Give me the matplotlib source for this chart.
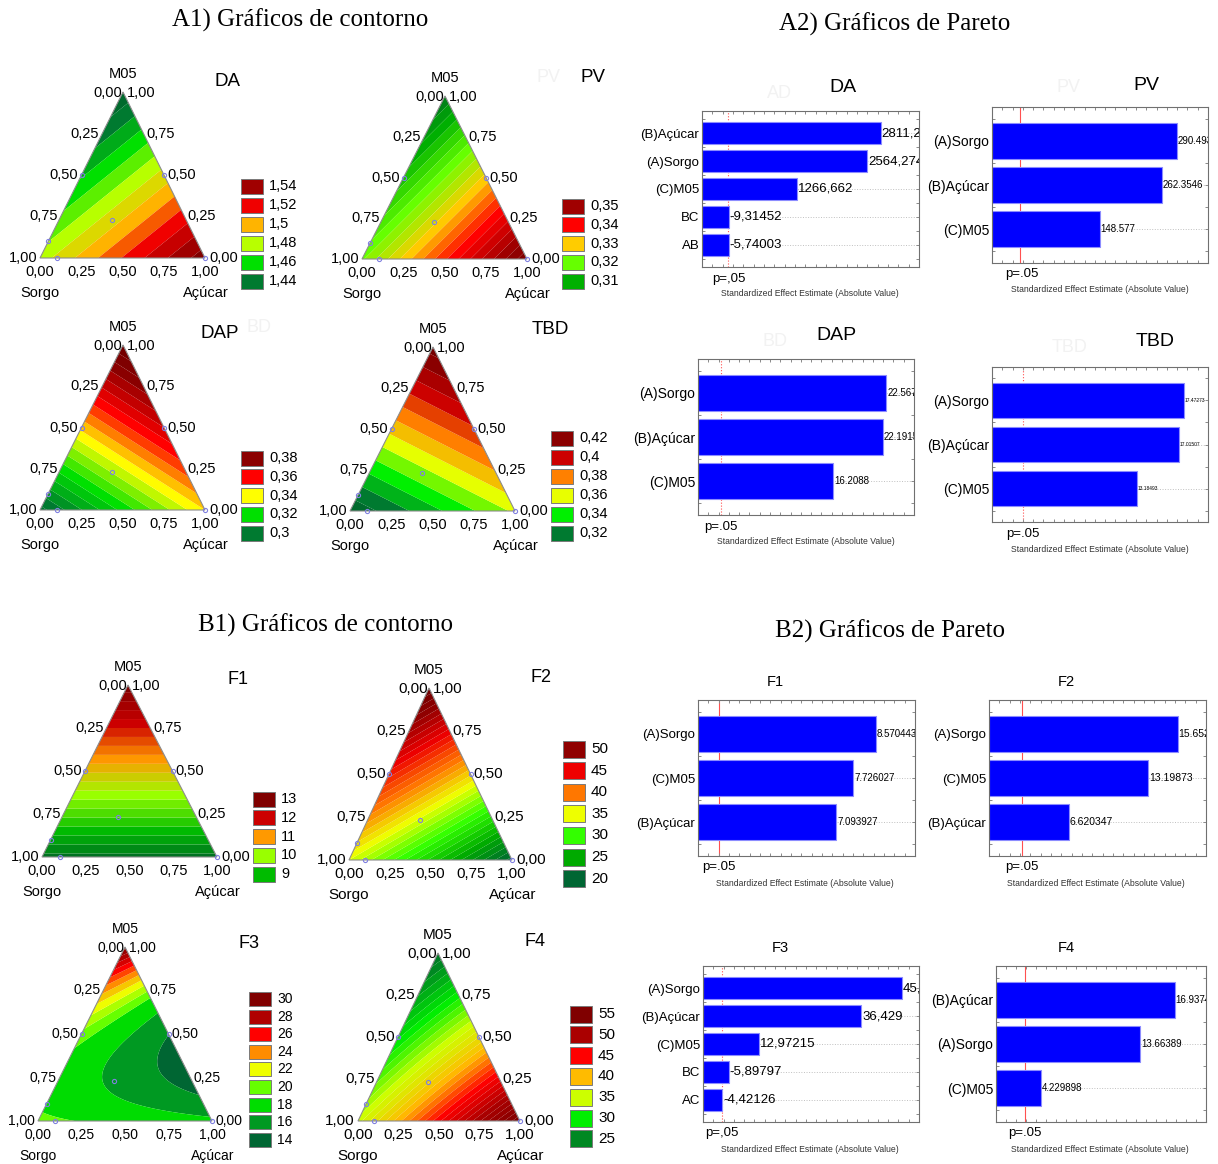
import numpy as np
import matplotlib
matplotlib.use('Agg')
from matplotlib import pyplot as plt
import matplotlib.tri as mtri
from matplotlib.colors import LinearSegmentedColormap
from matplotlib.patches import Rectangle, Polygon

plt.rcParams['font.family'] = ['Liberation Sans', 'DejaVu Sans']

W, H = 1218, 1164

# ---------------- ternary (mixture) surfaces ----------------
# blending coefficients: Sorgo, Acucar, M05, S*A, S*M, A*M, S*A*M
da_coef = [1.485, 1.556, 1.432, 0, 0, 0, 0]
pv_coef = [0.322, 0.357, 0.305, 0, 0, 0, 0]
dap_coef = [0.298, 0.345, 0.395, 0, 0, 0, 0]
tbd_coef = [0.312, 0.362, 0.435, 0, 0, 0, 0]
f1_coef = [8.4, 8.4, 13.2, 0, 0, 0, 0]
f2_coef = [35.0, 20.5, 54.0, 0, 0, 0, 0]
f3_coef = [20.4, 18.5, 30.5, 0, -19.0, -33.8, 0]
f4_coef = [35.5, 56.0, 24.0, 0, 0, -8, 0]

# legend values (top to bottom) and their colours
da_leg = [1.54, 1.52, 1.5, 1.48, 1.46, 1.44]
da_leg_col = ['#a00000', '#f00000', '#ffb400', '#b8ff00', '#00e000', '#007a30']
pv_leg = [0.35, 0.34, 0.33, 0.32, 0.31]
pv_leg_col = ['#a00000', '#ff0000', '#ffcc00', '#66ff00', '#00b000']
dap_leg = [0.38, 0.36, 0.34, 0.32, 0.3]
dap_leg_col = ['#8b0000', '#ff0000', '#ffff00', '#00e000', '#007a30']
tbd_leg = [0.42, 0.4, 0.38, 0.36, 0.34, 0.32]
tbd_leg_col = ['#8b0000', '#cc0000', '#ff8000', '#e8ff00', '#00f000', '#007a30']
f1_leg = [13, 12, 11, 10, 9]
f1_leg_col = ['#800000', '#cc0000', '#ff9900', '#99ff00', '#00bb00']
f2_leg = [50, 45, 40, 35, 30, 25, 20]
f2_leg_col = ['#900000', '#ee0000', '#ff7700', '#eeff00', '#33ff00', '#00aa00', '#006633']
f3_leg = [30, 28, 26, 24, 22, 20, 18, 16, 14]
f3_leg_col = ['#800000', '#b00000', '#ff0000', '#ff8c00', '#eeff00', '#66ff00', '#00dd00',
              '#009922', '#006633']
f4_leg = [55, 50, 45, 40, 35, 30, 25]
f4_leg_col = ['#800000', '#aa0000', '#ff0000', '#ffbb00', '#ccff00', '#00ee00', '#008822']

# design points (Sorgo, Acucar, M05)
design_pts = [(0.5, 0, 0.5), (0, 0.5, 0.5), (0.45, 0.32, 0.23), (0.9, 0, 0.1),
              (0.9, 0.1, 0), (0, 1, 0)]

corner_ticks = ['0,00', '0,25', '0,50', '0,75', '1,00']

tern_panels = [
    dict(name='DA', coef=da_coef, leg=da_leg, col=da_leg_col, levels=np.arange(1.42, 1.571, 0.01),
         bl=(40, 258), br=(205, 258), ap=(123, 92), title=(228, 81), ghost=None,
         lx=241, ly=186, lstep=19, bh=15, fs=10.5),
    dict(name='PV', coef=pv_coef, leg=pv_leg, col=pv_leg_col, levels=np.arange(0.30, 0.3601, 0.0025),
         bl=(362, 259), br=(527, 259), ap=(445, 96), title=(593, 78), ghost=(549, 78),
         lx=562, ly=206, lstep=18.8, bh=15, fs=10.5),
    dict(name='DAP', coef=dap_coef, leg=dap_leg, col=dap_leg_col, levels=np.arange(0.29, 0.401, 0.005),
         bl=(40, 510), br=(205, 510), ap=(123, 345), title=(220, 333), ghost=None,
         ghost_txt=('BD', 259, 327), lx=241, ly=458, lstep=18.8, bh=15, fs=10.5),
    dict(name='TBD', coef=tbd_coef, leg=tbd_leg, col=tbd_leg_col, levels=np.arange(0.30, 0.441, 0.01),
         bl=(350, 511), br=(515, 511), ap=(433, 347), title=(550, 330), ghost=None,
         lx=551, ly=438, lstep=19, bh=15, fs=10.5),
    dict(name='F1', coef=f1_coef, leg=f1_leg, col=f1_leg_col, levels=np.arange(8.0, 13.51, 0.25),
         bl=(42, 857), br=(217, 857), ap=(128, 685), title=(238, 680), ghost=None,
         lx=253, ly=799, lstep=18.8, bh=15, fs=10.5),
    dict(name='F2', coef=f2_coef, leg=f2_leg, col=f2_leg_col, levels=np.arange(19, 57, 1.0),
         bl=(349, 860), br=(512, 860), ap=(429, 688), title=(541, 677), ghost=None,
         lx=563, ly=749, lstep=21.6, bh=17, fs=11),
    dict(name='F3', coef=f3_coef, leg=f3_leg, col=f3_leg_col,
         levels=[12, 14, 16, 18, 20, 21, 22, 23, 24, 25, 26, 27, 28, 29, 30, 31, 32],
         bl=(38, 1121), br=(212, 1121), ap=(125, 947), title=(249, 944), ghost=None,
         lx=249, ly=999, lstep=17.6, bh=14, fs=10),
    dict(name='F4', coef=f4_coef, leg=f4_leg, col=f4_leg_col, levels=np.arange(22, 58, 1.0),
         bl=(358, 1121), br=(520, 1121), ap=(438, 953), title=(535, 942), ghost=None,
         lx=570, ly=1014, lstep=20.8, bh=17, fs=11),
]

# ---------------- pareto charts ----------------
da_terms = ['(B)Açúcar', '(A)Sorgo', '(C)M05', 'BC', 'AB']
da_eff = [2811.25, 2564.274, 1266.662, -9.31452, -5.74003]
da_lbl = ['2811,25', '2564,274', '1266,662', '-9,31452', '-5,74003']
pv_terms = ['(A)Sorgo', '(B)Açúcar', '(C)M05']
pv_eff = [290.4937, 262.3546, 148.577]
pv_lbl = ['290.4937', '262.3546', '148.577']
dap_terms = ['(A)Sorgo', '(B)Açúcar', '(C)M05']
dap_eff = [22.5673, 22.1915, 16.2088]
dap_lbl = ['22.5673', '22.1915', '16.2088']
tbd_terms = ['(A)Sorgo', '(B)Açúcar', '(C)M05']
tbd_eff = [17.47273, 17.01507, 13.18493]
tbd_lbl = ['17.47273', '17.01507', '13.18493']
f1_terms = ['(A)Sorgo', '(C)M05', '(B)Açúcar']
f1_eff = [8.570443, 7.726027, 7.093927]
f1_lbl = ['8.570443', '7.726027', '7.093927']
f2_terms = ['(A)Sorgo', '(C)M05', '(B)Açúcar']
f2_eff = [15.65278, 13.19873, 6.620347]
f2_lbl = ['15.65278', '13.19873', '6.620347']
f3_terms = ['(A)Sorgo', '(B)Açúcar', '(C)M05', 'BC', 'AC']
f3_eff = [45.8124, 36.429, 12.97215, -5.89797, -4.42126]
f3_lbl = ['45,8124', '36,429', '12,97215', '-5,89797', '-4,42126']
f4_terms = ['(B)Açúcar', '(A)Sorgo', '(C)M05']
f4_eff = [16.93742, 13.66389, 4.229898]
f4_lbl = ['16.93742', '13.66389', '4.229898']

pareto_panels = [
    dict(terms=da_terms, eff=da_eff, lbl=da_lbl, rect=(702, 111, 919, 267), xlim=(-484, 3520),
         p=2.5, pls=':', title='DA', tpos=(843, 87), tfs=14, ghost=('AD', 779, 93),
         yfs=9.5, vfs=9.5, ptxt='p=,05', ppos=(712, 279), xl=(810, 294)),
    dict(terms=pv_terms, eff=pv_eff, lbl=pv_lbl, rect=(992, 107, 1208, 263), xlim=(-48.7, 347.6),
         p=2.9, pls='-', title='PV', tpos=(1146, 86), tfs=14, ghost=('PV', 1069, 88),
         yfs=10, vfs=7, ptxt='p=.05', ppos=(1005, 274), xl=(1100, 290)),
    dict(terms=dap_terms, eff=dap_eff, lbl=dap_lbl, rect=(698, 359, 914, 515), xlim=(0, 25.9),
         p=2.76, pls=':', title='DAP', tpos=(836, 336), tfs=14, ghost=('BD', 775, 341),
         yfs=10, vfs=7, ptxt='p=.05', ppos=(704, 527), xl=(806, 542)),
    dict(terms=tbd_terms, eff=tbd_eff, lbl=tbd_lbl, rect=(992, 367, 1208, 522), xlim=(0, 19.7),
         p=2.83, pls=':', title='TBD', tpos=(1155, 341), tfs=14, ghost=('TBD', 1070, 348),
         yfs=10, vfs=3.5, ptxt='p=.05', ppos=(1006, 534), xl=(1100, 550)),
    dict(terms=f1_terms, eff=f1_eff, lbl=f1_lbl, rect=(698, 700, 915, 856), xlim=(2.0, 10.0),
         p=2.77, pls='-', title='F1', tpos=(775, 682), tfs=10.5, ghost=None,
         yfs=9.5, vfs=7, ptxt='p=.05', ppos=(702, 867), xl=(805, 883)),
    dict(terms=f2_terms, eff=f2_eff, lbl=f2_lbl, rect=(989, 700, 1206, 856), xlim=(0, 18.0),
         p=2.73, pls='-', title='F2', tpos=(1066, 682), tfs=10.5, ghost=None,
         yfs=9.5, vfs=7.5, ptxt='p=.05', ppos=(1005, 867), xl=(1096, 883)),
    dict(terms=f3_terms, eff=f3_eff, lbl=f3_lbl, rect=(703, 966, 919, 1122), xlim=(0, 49.7),
         p=4.37, pls=':', title='F3', tpos=(780, 948), tfs=10.5, ghost=None,
         yfs=9.5, vfs=9.5, ptxt='p=,05', ppos=(705, 1133), xl=(810, 1149)),
    dict(terms=f4_terms, eff=f4_eff, lbl=f4_lbl, rect=(996, 966, 1206, 1122), xlim=(0, 19.9),
         p=2.75, pls='-', title='F4', tpos=(1066, 948), tfs=10.5, ghost=None,
         yfs=10, vfs=7, ptxt='p=.05', ppos=(1008, 1133), xl=(1100, 1149)),
]

section_titles = [('A1) Gráficos de contorno', 300, 20), ('A2) Gráficos de Pareto', 895, 24),
                  ('B1) Gráficos de contorno', 326, 625), ('B2) Gráficos de Pareto', 890, 631)]

fig = plt.figure(figsize=(W / 100, H / 100), dpi=100)
ax0 = fig.add_axes([0, 0, 1, 1])
ax0.set_xlim(0, W)
ax0.set_ylim(H, 0)
ax0.axis('off')


def model(c, s, a, m):
    return (c[0] * s + c[1] * a + c[2] * m + c[3] * s * a + c[4] * s * m
            + c[5] * a * m + c[6] * s * a * m)


def band_cmap(leg, cols):
    vals = list(leg[::-1])
    cl = list(cols[::-1])
    step = vals[1] - vals[0]
    vals = [vals[0] - step] + vals + [vals[-1] + step]
    cl = ['#005a2b'] + cl + ['#600000']
    lo, hi = vals[0], vals[-1]
    pos = [(v - lo) / (hi - lo) for v in vals]
    return LinearSegmentedColormap.from_list('b', list(zip(pos, cl))), lo, hi


# evaluation mesh in barycentric coordinates
n = 90
mesh = [(1 - (i + j) / n, j / n, i / n) for i in range(n + 1) for j in range(n + 1 - i)]
mS = np.array([p[0] for p in mesh])
mA = np.array([p[1] for p in mesh])
mM = np.array([p[2] for p in mesh])

for tp in tern_panels:
    bl, br, ap = np.array(tp['bl']), np.array(tp['br']), np.array(tp['ap'])

    def to_px(s, a, m):
        return s * bl[0] + a * br[0] + m * ap[0], s * bl[1] + a * br[1] + m * ap[1]

    px, py = to_px(mS, mA, mM)
    z = model(tp['coef'], mS, mA, mM)
    cmap, lo, hi = band_cmap(tp['leg'], tp['col'])
    levels = list(tp['levels'])
    band_cols = [cmap(min(max((lv - lo) / (hi - lo), 0), 1)) for lv in levels[:-1]]
    tri = mtri.Triangulation(px, py)
    ax0.tricontourf(tri, z, levels=levels, colors=band_cols, extend='neither', antialiased=True)
    ax0.add_patch(Polygon([bl, br, ap], closed=True, fill=False, ec='#8c8c8c', lw=0.8))

    dp = [to_px(*d) for d in design_pts]
    ax0.plot([d[0] for d in dp], [d[1] for d in dp], 'o', mfc='none', mec='#8080e0', ms=3, mew=0.8)

    fs = tp['fs']
    ax0.text(ap[0], ap[1] - 18, 'M05', ha='center', va='center', fontsize=fs)
    ax0.text(ap[0] - 1, ap[1] + 1, corner_ticks[0], ha='right', va='center', fontsize=fs)
    ax0.text(ap[0] + 4, ap[1] + 1, corner_ticks[4], ha='left', va='center', fontsize=fs)
    for k in range(1, 5):
        s = k / 4
        x, y = to_px(s, 0, 1 - s)
        ax0.text(x - 3, y, corner_ticks[k], ha='right', va='center', fontsize=fs)
    for k in range(0, 4):
        m = k / 4
        x, y = to_px(0, 1 - m, m)
        ax0.text(x + (4 if k == 0 else 3), y, corner_ticks[k], ha='left', va='center', fontsize=fs)
    for k in range(5):
        x, y = to_px(1 - k / 4, k / 4, 0)
        ax0.text(x, y + 14, corner_ticks[k], ha='center', va='center', fontsize=fs)
    ax0.text(bl[0], bl[1] + 35, 'Sorgo', ha='center', va='center', fontsize=fs)
    ax0.text(br[0] + 1, br[1] + 35, 'Açúcar', ha='center', va='center', fontsize=fs)
    ax0.text(tp['title'][0], tp['title'][1], tp['name'], ha='center', va='center',
             fontsize=13.5 if len(tp['name']) > 2 or tp['name'] in ('DA', 'PV') else 13)
    if tp['ghost']:
        ax0.text(tp['ghost'][0], tp['ghost'][1], tp['name'], ha='center', va='center',
                 fontsize=13, color='#f2f2f2')
    if tp.get('ghost_txt'):
        g = tp['ghost_txt']
        ax0.text(g[1], g[2], g[0], ha='center', va='center', fontsize=13, color='#f2f2f2')

    for k, (v, c) in enumerate(zip(tp['leg'], tp['col'])):
        yc = tp['ly'] + k * tp['lstep']
        ax0.add_patch(Rectangle((tp['lx'], yc - tp['bh'] / 2), 22, tp['bh'], fc=c,
                                ec='#7a7a7a', lw=0.7))
        ax0.text(tp['lx'] + 28, yc, str(v).replace('.', ','), ha='left', va='center', fontsize=fs)

for t, x, y in section_titles:
    ax0.text(x, y, t, ha='center', va='center', fontsize=18, family='Liberation Serif')

for pp in pareto_panels:
    l, t, r, b = pp['rect']
    ax = fig.add_axes([l / W, 1 - b / H, (r - l) / W, (b - t) / H])
    nb = len(pp['terms'])
    ypos = np.arange(nb)
    widths = np.abs(pp['eff'])
    x0, x1 = pp['xlim']
    ax.barh(ypos, widths - x0, left=x0, height=0.81, color='#0000ff', edgecolor='#8c8cff',
            lw=0.8, zorder=2)
    for yy, w, s in zip(ypos, widths, pp['lbl']):
        ax.text(w + (x1 - x0) * 0.004, yy, s, ha='left', va='center', fontsize=pp['vfs'],
                clip_on=True, zorder=3)
    mg = 0.79 if nb == 5 else 0.76
    ax.set_ylim(nb - 1 + mg, -mg)
    ax.set_xlim(x0, x1)
    ax.axvline(pp['p'], color='#ff5050', lw=0.8, ls=pp['pls'], zorder=1)
    ax.set_yticks(ypos)
    ax.set_yticklabels(pp['terms'], fontsize=pp['yfs'])
    ax.set_yticks(np.arange(nb + 1) - 0.5, minor=True)
    ax.set_xticks(np.linspace(x0, x1, 22))
    ax.set_xticklabels([])
    ax.tick_params(which='both', direction='in', top=True, right=True, length=2.5,
                   color='#8a8a8a', width=0.7, pad=2)
    ax.grid(axis='y', ls=':', color='#c0c0c0', lw=0.7, zorder=0)
    for sp in ax.spines.values():
        sp.set_color('#707070')
        sp.set_linewidth(0.8)
    ax0.text(pp['tpos'][0], pp['tpos'][1], pp['title'], ha='center', va='center', fontsize=pp['tfs'])
    if pp['ghost']:
        g = pp['ghost']
        ax0.text(g[1], g[2], g[0], ha='center', va='center', fontsize=13, color='#f2f2f2')
    ax0.text(pp['ppos'][0], pp['ppos'][1], pp['ptxt'], ha='left', va='center', fontsize=9.5)
    ax0.text(pp['xl'][0], pp['xl'][1], 'Standardized Effect Estimate (Absolute Value)',
             ha='center', va='center', fontsize=6.2, color='#333333')

fig.savefig('out.png', dpi=100)
